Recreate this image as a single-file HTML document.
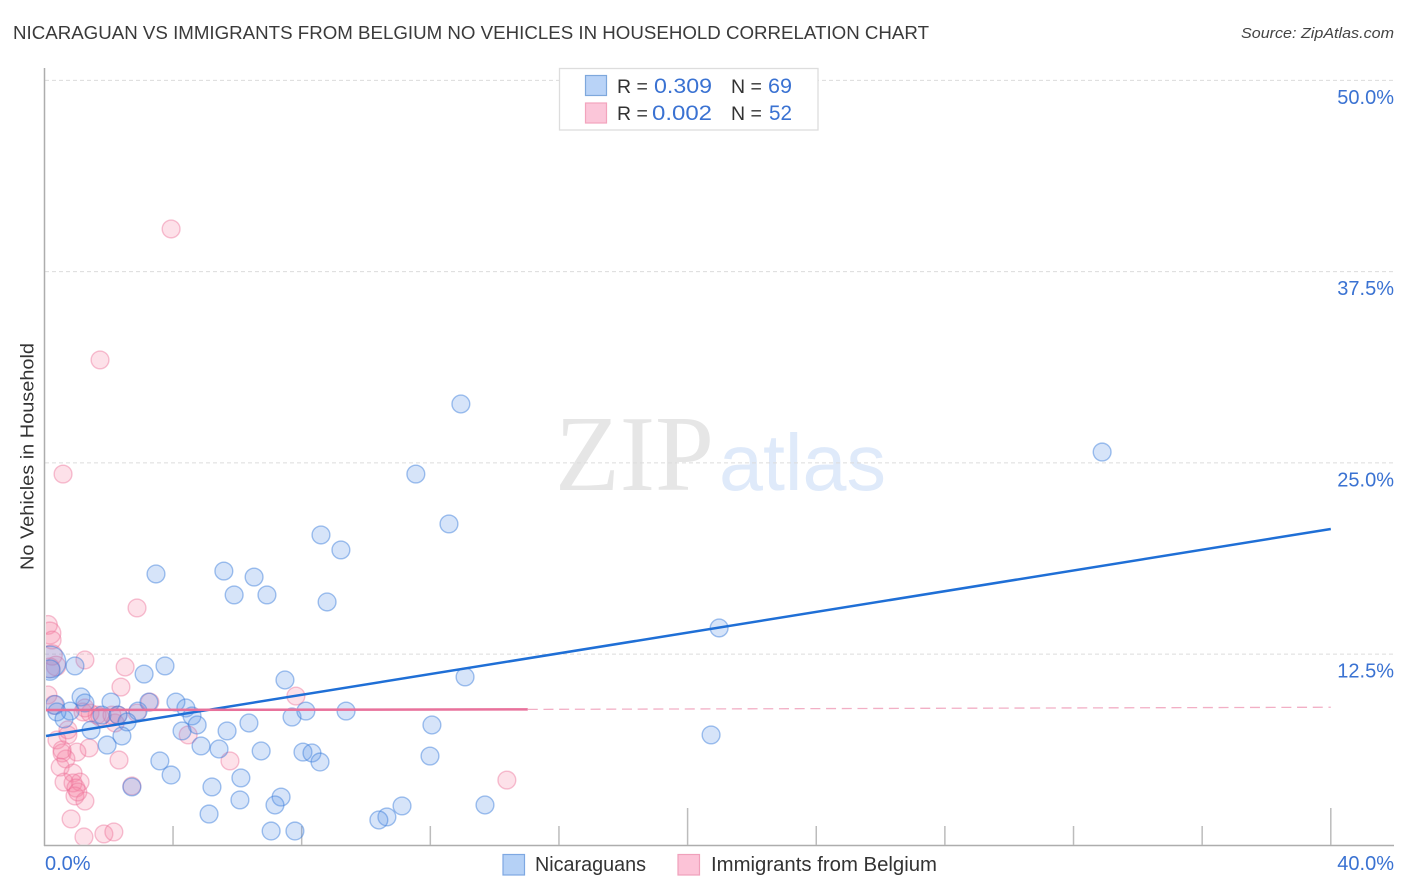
<!DOCTYPE html>
<html lang="en">
<head>
<meta charset="utf-8">
<title>Nicaraguan vs Immigrants from Belgium No Vehicles in Household Correlation Chart</title>
<style>
html,body{margin:0;padding:0;background:#fff;width:1406px;height:892px;overflow:hidden}
svg{display:block;font-family:"Liberation Sans",sans-serif}
</style>
</head>
<body>
<svg id="chart" xmlns="http://www.w3.org/2000/svg" width="1406" height="892" viewBox="0 0 1406 892">
  <defs>
    <clipPath id="plot-clip"><rect x="46" y="60" width="1350" height="784.5"></rect></clipPath>
  </defs>
  <rect x="0" y="0" width="1406" height="892" fill="#ffffff"></rect>
  <text x="13" y="39" font-size="18.5" fill="#3a3a3a" textLength="916" lengthAdjust="spacingAndGlyphs">NICARAGUAN VS IMMIGRANTS FROM BELGIUM NO VEHICLES IN HOUSEHOLD CORRELATION CHART</text>
  <text x="1394" y="38" font-size="15" font-style="italic" fill="#444" text-anchor="end" textLength="153" lengthAdjust="spacingAndGlyphs">Source: ZipAtlas.com</text>
  <g>
    <text x="555" y="490" font-family="'Liberation Serif',serif" font-size="108" fill="#e6e6e6" textLength="159" lengthAdjust="spacingAndGlyphs">ZIP</text>
    <text x="719" y="490" font-size="80" fill="#dfeafa" textLength="167" lengthAdjust="spacingAndGlyphs">atlas</text>
  </g>
  <g id="grid"></g>
  <g id="axes"></g>
  <g id="pink-points" clip-path="url(#plot-clip)"></g>
  <g id="blue-points" clip-path="url(#plot-clip)"></g>
  <g id="trends"></g>
  <text transform="translate(33.5,456.5) rotate(-90)" font-size="18.5" fill="#333" text-anchor="middle" textLength="227" lengthAdjust="spacingAndGlyphs">No Vehicles in Household</text>
  <g id="tick-labels"></g>

  <g>
    <rect x="559.5" y="68.5" width="258.5" height="61.5" fill="#ffffff" stroke="#dddddd" stroke-width="1.3"></rect>
    <rect x="585.5" y="75.5" width="21" height="20" fill="#b9d3f7" stroke="#7ea8dc" stroke-width="1.2"></rect>
    <rect x="585.5" y="103" width="21" height="20" fill="#fbc6d9" stroke="#f2a4bd" stroke-width="1.2"></rect>
    <text x="617" y="93" font-size="19.5" fill="#333">R =</text>
    <text x="654" y="93" font-size="21" fill="#3a72d2" textLength="58" lengthAdjust="spacingAndGlyphs">0.309</text>
    <text x="731" y="93" font-size="19.5" fill="#333">N =</text>
    <text x="768" y="93" font-size="21" fill="#3a72d2" textLength="24" lengthAdjust="spacingAndGlyphs">69</text>
    <text x="617" y="120" font-size="19.5" fill="#333">R =</text>
    <text x="652" y="120" font-size="21" fill="#3a72d2" textLength="60" lengthAdjust="spacingAndGlyphs">0.002</text>
    <text x="731" y="120" font-size="19.5" fill="#333">N =</text>
    <text x="769" y="120" font-size="21" fill="#3a72d2" textLength="23" lengthAdjust="spacingAndGlyphs">52</text>
  </g>

  <g>
    <g>
      <rect x="503" y="854.5" width="21.5" height="20.5" fill="#b5d1f6" stroke="#7ea8e2" stroke-width="1.2"></rect>
      <text x="535" y="871" font-size="20" fill="#333" textLength="111" lengthAdjust="spacingAndGlyphs">Nicaraguans</text>
    </g>
    <g>
      <rect x="678" y="854.5" width="21.5" height="20.5" fill="#fcc3d7" stroke="#f0a0bb" stroke-width="1.2"></rect>
      <text x="711" y="871" font-size="20" fill="#333" textLength="226" lengthAdjust="spacingAndGlyphs">Immigrants from Belgium</text>
    </g>
  </g>
</svg>

<script>
var nicaraguanX = [12.95,11.55,32.89,20.98,20.73,8.60,9.22,12.58,3.47,5.58,6.52,5.90,6.92,8.79,3.75,3.10,7.48,13.08,4.09,4.40,4.59,4.75,4.28,5.68,6.36,4.87,5.43,6.74,3.59,3.94,6.11,5.21,6.08,5.12,7.36,7.17,7.05,7.79,8.04,8.32,8.57,7.70,8.13,9.38,12.05,11.99,11.12,10.65,10.40,13.70,0.95,1.14,1.26,2.07,0.80,0.33,0.39,0.61,1.79,2.29,2.91,2.57,1.45,2.41,1.95,3.25,2.72,0.17,0.17];
var nicaraguanY = [28.85,24.27,25.71,14.21,7.22,20.29,19.31,21.01,17.74,17.93,17.54,16.37,16.37,15.91,11.73,11.20,10.81,11.01,9.37,8.98,8.46,7.87,7.48,7.48,8.00,6.50,6.30,6.17,5.52,4.60,4.41,3.82,2.97,2.05,3.16,2.64,0.94,0.94,6.10,6.04,5.45,8.39,8.78,8.78,7.87,5.84,2.58,1.86,1.66,2.64,11.73,9.70,9.31,9.37,8.78,9.18,8.72,8.26,8.52,8.52,8.78,8.07,7.54,7.15,6.56,9.37,3.82,11.99,11.46];
var nicaraguanWeights = [1,1,1,1,1,1,1,1,1,1,1,1,1,1,1,1,1,1,1,1,1,1,1,1,1,1,1,1,1,1,1,1,1,1,1,1,1,1,1,1,1,1,1,1,1,1,1,1,1,1,1,1,1,1,1,1.1,1,1,1,1,1,1,1,1,1,1,1,3.2,1.3];

var belgiumX = [3.94,1.73,0.58,14.38,2.88,1.26,2.51,2.38,0.11,0.17,0.24,0.36,0.17,0.11,0.30,3.28,1.20,1.64,1.42,1.73,2.29,2.88,2.20,0.73,0.39,1.39,1.01,0.55,0.67,0.49,0.89,1.11,0.61,0.89,0.98,0.95,1.26,0.83,1.23,1.85,2.16,2.32,2.72,4.47,5.77,7.82,0.24,1.04,0.55,0.73,2.10,1.26];
var belgiumY = [40.29,31.73,24.27,4.27,15.52,12.12,11.66,10.35,14.41,13.88,13.42,11.73,11.61,9.83,9.18,9.37,8.72,8.52,8.65,8.39,8.52,8.65,8.00,7.22,6.89,6.37,6.10,6.04,5.65,5.12,4.73,4.14,4.14,4.08,3.75,3.23,2.90,1.73,0.55,0.75,0.88,5.58,3.88,7.22,5.52,9.76,12.45,3.49,6.24,7.55,8.52,8.98];
var belgiumWeights = [1,1,1,1,1,1,1,1,1.1,1.5,1,1.2,1.2,1,1.1,1,1,1,1,1,1,1,1,1,1,1,1,1,1,1,1,1,1,1,1,1,1,1,1,1,1,1,1,1,1,1,1.3,1,1,1,1,1];

var xTickValues = [0,4,8,12,16,20,24,28,32,36,40];
var xMajorTicks = [0,20,40];
var xLabelValues = [0,40];
var yTickValues = [12.5,25,37.5,50];

var nicaraguanTrendX = [0.05,40];
var nicaraguanTrendY = [7.15,20.68];
var belgiumSolidX = [0.05,15.03];
var belgiumSolidY = [8.85,8.89];
var belgiumDashedX = [15.03,40];
var belgiumDashedY = [8.89,9.03];

var NS = 'http://www.w3.org/2000/svg';
function xScale(v){ return 44.4 + v * 32.16; }
function yScale(v){ return 845.4 - v * 15.3; }
function rScale(w){ return 8.9 * Math.sqrt(w); }
function make(tag, parent, props){
  var el = document.createElementNS(NS, tag);
  for (var k in props) el.setAttribute(k, props[k]);
  parent.appendChild(el);
  return el;
}

var grid = document.getElementById('grid');
yTickValues.forEach(function(v){
  var line = make('line', grid, {x1:45, x2:1393, y1:yScale(v), y2:yScale(v), stroke:'#dcdcdc', 'stroke-width':1, 'stroke-dasharray':'4 3'});
  
  
});

var axes = document.getElementById('axes');
var yAxis = make('line', axes, {x1:44.5, x2:44.5, y1:68, y2:846, stroke:'#adadad', 'stroke-width':1.5});


var xAxis = make('line', axes, {x1:44, x2:1394, y1:845.5, y2:845.5, stroke:'#adadad', 'stroke-width':1.5});


xTickValues.forEach(function(v){
  if (v === 0) return;
  var top = xMajorTicks.indexOf(v) >= 0 ? 808 : 826;
  var tick = make('line', axes, {x1:xScale(v), x2:xScale(v), y1:top, y2:845, stroke:'#bcbcbc', 'stroke-width':1.5});
  
  
});

var labels = document.getElementById('tick-labels');
yTickValues.forEach(function(v){
  var t = make('text', labels, {x:1394, y:yScale(v) + 23.5, 'font-size':20, fill:'#3a72d2', 'text-anchor':'end'});
  
  
  t.textContent = v.toFixed(1) + '%';
});
xLabelValues.forEach(function(v, i){
  var t = make('text', labels, {x: i === 0 ? 45 : 1394, y:870, 'font-size':20, fill:'#3a72d2', 'text-anchor': i === 0 ? 'start' : 'end'});
  
  
  t.textContent = v.toFixed(1) + '%';
});

var pinkGroup = document.getElementById('pink-points');
belgiumX.forEach(function(v, i){
  var c = make('circle', pinkGroup, {cx:xScale(v), cy:yScale(belgiumY[i]), r:rScale(belgiumWeights[i]), fill:'rgba(246,130,165,0.24)', stroke:'rgba(236,110,150,0.42)', 'stroke-width':1.4});
  
  
});

var blueGroup = document.getElementById('blue-points');
nicaraguanX.forEach(function(v, i){
  var c = make('circle', blueGroup, {cx:xScale(v), cy:yScale(nicaraguanY[i]), r:rScale(nicaraguanWeights[i]), fill:'rgba(96,150,232,0.26)', stroke:'rgba(60,125,218,0.47)', 'stroke-width':1.4});
  
  
});

var trends = document.getElementById('trends');
var blueTrend = make('line', trends, {x1:xScale(nicaraguanTrendX[0]), y1:yScale(nicaraguanTrendY[0]), x2:xScale(nicaraguanTrendX[1]), y2:yScale(nicaraguanTrendY[1]), stroke:'#1f6fd6', 'stroke-width':2.5});


var pinkTrend = make('line', trends, {x1:xScale(belgiumSolidX[0]), y1:yScale(belgiumSolidY[0]), x2:xScale(belgiumSolidX[1]), y2:yScale(belgiumSolidY[1]), stroke:'#e8719b', 'stroke-width':2.5});


var pinkDash = make('line', trends, {x1:xScale(belgiumDashedX[0]), y1:yScale(belgiumDashedY[0]), x2:xScale(belgiumDashedX[1]), y2:yScale(belgiumDashedY[1]), stroke:'#f2afc5', 'stroke-width':1.3, 'stroke-dasharray':'10 5.7'});


</script>
</body>
</html>
